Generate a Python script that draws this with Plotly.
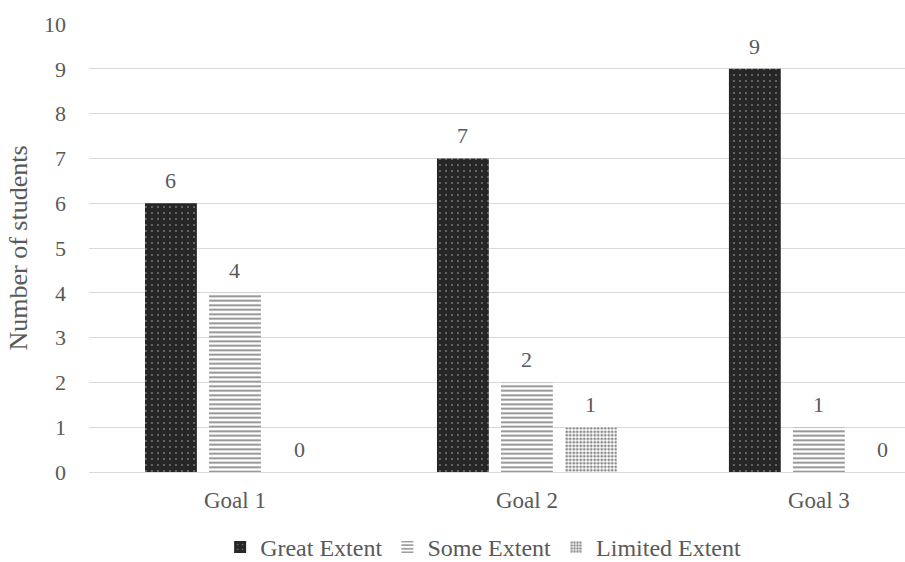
import plotly.graph_objects as go

categories = ["Goal 1", "Goal 2", "Goal 3"]
great_extent = [6, 7, 9]
some_extent = [4, 2, 1]
limited_extent = [0, 1, 0]
series_names = ["Great Extent", "Some Extent", "Limited Extent"]

FONT = "Liberation Serif, Times New Roman, serif"
GRAY = "#595959"
W, H = 905, 562
ML, MR, MT, MB = 89, 0, 24, 90
XRANGE = [-0.5, 2.295]
BARGAP = 0.342

fig = go.Figure()
fig.add_trace(go.Bar(
    x=categories, y=great_extent, name=series_names[0],
    marker=dict(color="#262626", line=dict(width=0),
                pattern=dict(shape=".", fgcolor="#d0d0d0", bgcolor="#262626",
                             size=6, solidity=0.08, fillmode="overlay")),
))
fig.add_trace(go.Bar(
    x=categories, y=some_extent, name=series_names[1],
    marker=dict(color="white", line=dict(width=0),
                pattern=dict(shape="-", fgcolor="#111111", bgcolor="white",
                             size=4.5, solidity=0.4, fillmode="overlay")),
))
fig.add_trace(go.Bar(
    x=categories, y=limited_extent, name=series_names[2],
    marker=dict(color="white", line=dict(width=0),
                pattern=dict(shape=".", fgcolor="#111111", bgcolor="white",
                             size=3.5, solidity=0.5, fillmode="overlay")),
))

# value labels above bars, offset within the group using the bar layout geometry
px_per_cat = (W - ML - MR) / (XRANGE[1] - XRANGE[0])
step = px_per_cat * (1 - BARGAP) / 3
for k, vals in enumerate([great_extent, some_extent, limited_extent]):
    for cat, v in zip(categories, vals):
        fig.add_annotation(x=cat, y=v, text=str(v), showarrow=False,
                           xshift=(k - 1) * step, yshift=8, yanchor="bottom",
                           font=dict(family=FONT, size=22, color=GRAY))

fig.update_layout(
    width=W, height=H,
    margin=dict(l=ML, r=MR, t=MT, b=MB, autoexpand=False),
    paper_bgcolor="white", plot_bgcolor="white",
    barmode="group", bargap=BARGAP, bargroupgap=0.19,
    font=dict(family=FONT, color=GRAY, size=22),
    showlegend=True,
    legend=dict(orientation="h", x=0.483, xanchor="center", y=-0.118, yanchor="top",
                font=dict(family=FONT, size=24, color=GRAY),
                itemwidth=30, traceorder="normal"),
    xaxis=dict(range=XRANGE, showgrid=False, showline=False, ticks="",
               automargin=False, ticklabelstandoff=12,
               tickfont=dict(family=FONT, size=23, color=GRAY)),
    yaxis=dict(range=[0, 10], dtick=1, showgrid=True, gridcolor="#d9d9d9", gridwidth=1,
               zeroline=True, zerolinecolor="#d9d9d9", zerolinewidth=1,
               automargin=False, ticklabelstandoff=22,
               tickfont=dict(family=FONT, size=22, color=GRAY), ticks="",
               title=dict(text="Number of students", font=dict(family=FONT, size=26, color=GRAY),
                          standoff=8)),
)

fig.write_html("out.html")
